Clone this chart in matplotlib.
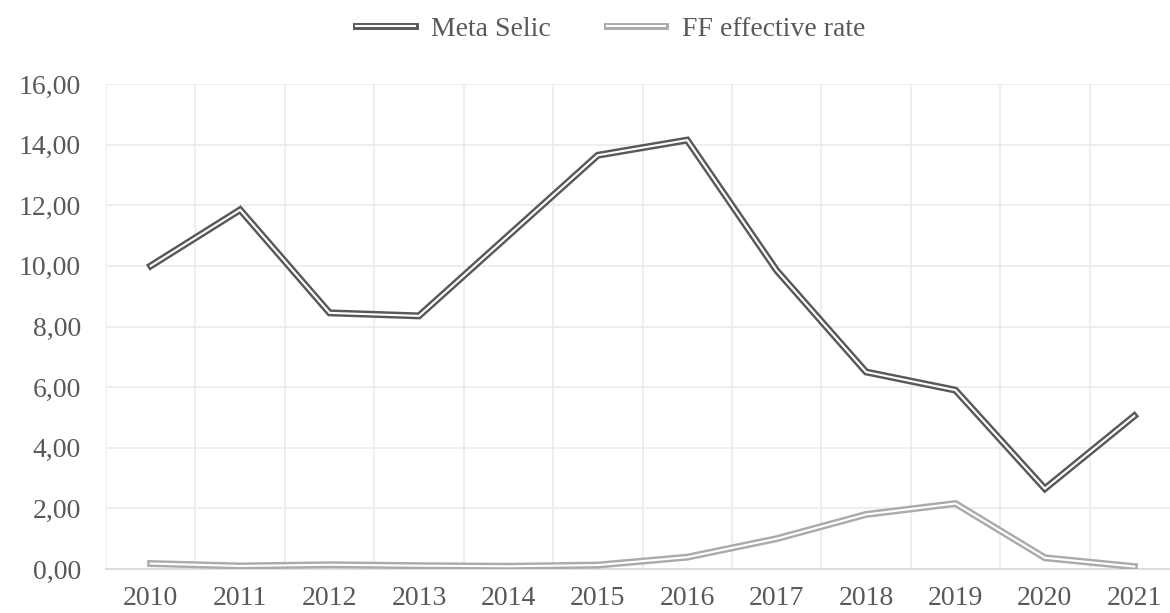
import numpy as np
import matplotlib.pyplot as plt
from matplotlib.ticker import FixedLocator, FuncFormatter

years = ['2010', '2011', '2012', '2013', '2014', '2015', '2016', '2017', '2018', '2019', '2020', '2021']
meta_selic = [10.0, 11.85, 8.45, 8.35, 11.0, 13.65, 14.15, 9.85, 6.5, 5.9, 2.65, 5.05]
ff_rate = [0.18, 0.10, 0.14, 0.11, 0.09, 0.13, 0.39, 1.0, 1.8, 2.16, 0.37, 0.08]

plt.rcParams['font.family'] = ['Liberation Serif', 'DejaVu Serif']

fig = plt.figure(figsize=(11.7, 6.13), dpi=100)
ax = fig.add_axes([106 / 1170, 44 / 613, 1073 / 1170, 485 / 613])

x = np.arange(len(years))
dark = '#595959'
light = '#ababab'

# double lines: thick colored line with a thin white line on top
l1, = ax.plot(x, meta_selic, color=dark, lw=5.0, solid_joinstyle='miter', zorder=3)
w1, = ax.plot(x, meta_selic, color='white', lw=1.5, solid_joinstyle='miter', zorder=4)
l2, = ax.plot(x, ff_rate, color=light, lw=5.0, solid_joinstyle='miter', zorder=3)
w2, = ax.plot(x, ff_rate, color='white', lw=1.5, solid_joinstyle='miter', zorder=4)

ax.set_xlim(-0.5, len(years) - 0.5)
ax.set_ylim(0, 16)
ax.set_yticks(np.arange(0, 17, 2))
ax.yaxis.set_major_formatter(FuncFormatter(lambda v, p: f'{v:.2f}'.replace('.', ',')))
ax.set_xticks(x)
ax.set_xticklabels(years)
ax.xaxis.set_minor_locator(FixedLocator(np.arange(-0.5, len(years), 1)))

ax.grid(axis='y', which='major', color='#ebebeb', lw=1.2)
ax.grid(axis='x', which='minor', color='#ebebeb', lw=1.2)
ax.set_axisbelow(True)

for s in ['top', 'right', 'left']:
    ax.spines[s].set_visible(False)
ax.spines['bottom'].set_color('#d9d9d9')
ax.spines['bottom'].set_linewidth(1.2)

ax.tick_params(axis='both', which='both', length=0, labelsize=20, labelcolor=dark)
ax.tick_params(axis='x', pad=12)
ax.tick_params(axis='y', pad=18)

fig.legend([(l1, w1), (l2, w2)], ['Meta Selic', 'FF effective rate'],
           loc='center', bbox_to_anchor=(0.522, 0.953), ncol=2, frameon=False,
           fontsize=20, labelcolor=dark, handlelength=2.1, columnspacing=2.0,
           handletextpad=0.6)

fig.savefig('out.png', dpi=100)
